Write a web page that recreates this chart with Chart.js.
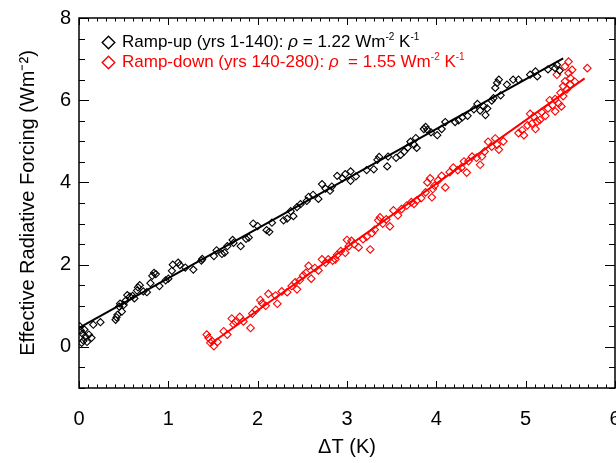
<!DOCTYPE html>
<html><head><meta charset="utf-8">
<script src="https://cdn.jsdelivr.net/npm/chart.js@4.4.1/dist/chart.umd.min.js"></script>
<style>
html,body{margin:0;padding:0;overflow:hidden;background:#fff;width:616px;height:463px;}
#wrap{position:relative;width:640px;height:463px;}
canvas{position:absolute;left:0;top:0;}
.leg{position:absolute;left:122px;font-family:"Liberation Sans",Arial,sans-serif;font-size:17px;line-height:20px;white-space:nowrap;}
.leg sup{font-size:10px;line-height:0;vertical-align:7px;}
.mk{position:absolute;left:101px;width:15px;height:15px;}
</style></head><body>
<div id="wrap"><canvas id="c" width="640" height="463"></canvas>
<svg class="mk" style="top:35px" viewBox="0 0 15 15"><polygon points="7.5,1.2 13.8,7.5 7.5,13.8 1.2,7.5" fill="none" stroke="#000" stroke-width="1.4"/></svg>
<div class="leg" style="top:32px;color:#000">Ramp-up (yrs 1-140): <i>ρ</i> = 1.22 Wm<sup>-2</sup> K<sup>-1</sup></div>
<svg class="mk" style="top:55px" viewBox="0 0 15 15"><polygon points="7.5,1.2 13.8,7.5 7.5,13.8 1.2,7.5" fill="none" stroke="#f00" stroke-width="1.4"/></svg>
<div class="leg" style="top:52px;color:#f00">Ramp-down (yrs 140-280): <i>ρ</i> &nbsp;= 1.55 Wm<sup>-2</sup> K<sup>-1</sup></div>
</div>
<script>
const rampUpX=[0.01,0.02,0.03,0.04,0.05,0.06,0.07,0.09,0.11,0.14,0.16,0.24,0.41,0.42,0.43,0.45,0.46,0.48,0.50,0.52,0.54,0.57,0.60,0.62,0.65,0.66,0.68,0.72,0.76,0.80,0.82,0.84,0.86,0.90,0.97,1.00,1.04,1.05,1.11,1.13,1.19,1.28,1.37,1.38,1.51,1.54,1.60,1.63,1.66,1.72,1.73,1.81,1.87,1.90,1.95,2.00,2.10,2.13,2.16,2.29,2.33,2.37,2.40,2.44,2.48,2.55,2.57,2.62,2.68,2.72,2.76,2.81,2.83,2.89,2.95,2.98,3.04,3.04,3.10,3.22,3.30,3.34,3.36,3.45,3.46,3.55,3.60,3.64,3.68,3.71,3.75,3.77,3.78,3.86,3.88,3.90,3.94,4.01,4.06,4.10,4.21,4.25,4.29,4.35,4.42,4.46,4.49,4.53,4.55,4.57,4.62,4.64,4.66,4.68,4.70,4.72,4.79,4.86,4.92,5.05,5.11,5.13,5.25,5.33,5.35,5.38];
const rampUpY=[0.50,0.40,0.10,0.32,0.15,0.42,0.25,0.12,0.30,0.22,0.54,0.60,0.66,0.72,0.78,0.98,1.05,0.86,1.02,1.12,1.26,1.22,1.24,1.18,1.37,1.45,1.50,1.35,1.33,1.55,1.73,1.80,1.77,1.48,1.62,1.66,1.85,2.00,2.05,1.99,1.93,1.88,2.10,2.14,2.21,2.35,2.26,2.29,2.45,2.60,2.53,2.45,2.63,2.66,3.00,2.94,2.84,2.80,3.02,3.08,3.12,3.30,3.18,3.40,3.47,3.55,3.65,3.70,3.60,3.96,3.85,3.80,3.90,4.16,4.10,4.20,4.27,4.04,4.15,4.30,4.32,4.55,4.62,4.39,4.63,4.60,4.67,4.75,4.85,4.99,4.92,5.08,4.84,5.30,5.35,5.28,5.22,5.15,5.30,5.47,5.47,5.51,5.58,5.62,5.78,5.91,5.75,5.85,5.64,5.80,5.99,6.05,6.30,6.42,6.50,6.12,6.38,6.50,6.50,6.62,6.70,6.58,6.75,6.78,6.86,6.72];
const rampDownX=[1.43,1.45,1.47,1.49,1.51,1.55,1.62,1.66,1.71,1.73,1.75,1.80,1.84,1.92,1.94,1.98,2.03,2.05,2.09,2.12,2.20,2.22,2.27,2.33,2.38,2.42,2.44,2.47,2.51,2.54,2.57,2.60,2.64,2.68,2.72,2.76,2.79,2.84,2.87,2.89,2.93,2.98,3.00,3.02,3.05,3.08,3.13,3.18,3.22,3.26,3.28,3.31,3.35,3.37,3.40,3.44,3.48,3.52,3.57,3.61,3.67,3.72,3.75,3.78,3.83,3.88,3.90,3.93,3.95,3.96,3.98,4.02,4.06,4.10,4.15,4.19,4.24,4.28,4.31,4.34,4.36,4.40,4.45,4.49,4.51,4.54,4.58,4.62,4.66,4.68,4.70,4.75,4.92,4.96,4.98,5.02,5.05,5.07,5.09,5.11,5.13,5.16,5.18,5.22,5.25,5.27,5.30,5.33,5.33,5.35,5.37,5.39,5.40,5.42,5.42,5.44,5.44,5.46,5.48,5.48,5.50,5.50,5.52,5.55,5.69];
const rampDownY=[0.30,0.22,0.10,0.14,0.02,0.12,0.38,0.30,0.69,0.55,0.61,0.73,0.62,0.46,0.81,0.90,1.14,1.06,1.00,1.29,1.25,1.05,1.35,1.33,1.48,1.57,1.40,1.62,1.74,1.80,1.97,1.66,1.92,1.86,2.13,2.05,2.13,2.10,2.13,2.24,2.33,2.29,2.60,2.45,2.58,2.50,2.42,2.62,2.68,2.37,2.77,2.85,3.08,3.15,3.00,3.10,2.93,3.32,3.20,3.35,3.44,3.52,3.48,3.56,3.62,3.76,4.00,4.10,3.64,3.84,3.92,4.05,4.16,3.88,4.25,4.36,4.30,4.36,4.51,4.24,4.52,4.63,4.60,4.43,4.63,4.75,4.99,4.87,5.07,4.92,4.80,5.00,5.20,5.27,5.15,5.39,5.67,5.43,5.60,5.30,5.48,5.52,5.71,5.62,5.80,6.00,5.88,6.03,5.73,6.62,5.92,6.18,5.85,6.34,6.10,6.46,6.82,6.26,6.66,6.94,6.54,6.38,6.74,6.45,6.78];
const fitUpX=[0,5.42], fitUpY=[0.46,7.02];
const fitDownX=[1.47,5.66], fitDownY=[0.07,6.53];
const xTickValues=[0,1,2,3,4,5,6];
const yTickValues=[0,2,4,6,8];
const xTitle='\u0394T (K)';
const yTitle='Effective Radiative Forcing (Wm\u207B\u00B2)';

const pts=(xs,ys)=>xs.map((x,i)=>({x:x,y:ys[i]}));
const FONT='"Liberation Sans", Arial, sans-serif';

const frame={id:'frame',afterDraw(chart){
  const {ctx,chartArea:a,scales:{x,y}}=chart;
  ctx.save();ctx.strokeStyle='#000';ctx.lineWidth=1;ctx.beginPath();
  for(let i=0;i<=60;i++){
    const px=Math.round(x.getPixelForValue(i/10))+0.5;
    const len=(i%10===0)?7:3.5;
    ctx.moveTo(px,a.bottom);ctx.lineTo(px,a.bottom-len);
    ctx.moveTo(px,a.top);ctx.lineTo(px,a.top+len);
  }
  for(let i=-2;i<=16;i++){
    const py=Math.round(y.getPixelForValue(i/2))+0.5;
    const len=(i%4===0)?10:6;
    ctx.moveTo(a.left,py);ctx.lineTo(a.left+len,py);
    ctx.moveTo(a.right,py);ctx.lineTo(a.right-len,py);
  }
  ctx.stroke();
  ctx.lineWidth=1.5;ctx.strokeRect(a.left,a.top,a.right-a.left,a.bottom-a.top);
  ctx.restore();
}};

new Chart(document.getElementById('c'),{
  type:'scatter',
  data:{datasets:[
    {data:pts(fitUpX,fitUpY),showLine:true,borderColor:'#000',borderWidth:2,pointRadius:0},
    {data:pts(fitDownX,fitDownY),showLine:true,borderColor:'#f00',borderWidth:2,pointRadius:0},
    {data:pts(rampUpX,rampUpY),pointStyle:'rectRot',pointRadius:3.6,borderWidth:1.1,borderColor:'#000',backgroundColor:'rgba(0,0,0,0)'},
    {data:pts(rampDownX,rampDownY),pointStyle:'rectRot',pointRadius:3.8,borderWidth:1.1,borderColor:'#f00',backgroundColor:'rgba(0,0,0,0)'}
  ]},
  options:{
    responsive:false,animation:false,
    layout:{padding:{top:10,right:25,bottom:0,left:0}},
    plugins:{legend:{display:false},tooltip:{enabled:false}},
    scales:{
      x:{type:'linear',min:0,max:6,
        afterBuildTicks:s=>{s.ticks=xTickValues.map(v=>({value:v}));},
        afterFit:s=>{s.height=75;},
        grid:{display:false,drawTicks:false},border:{display:false},
        ticks:{color:'#000',font:{family:FONT,size:20},padding:19,maxRotation:0,autoSkip:false},
        title:{display:true,text:xTitle,color:'#000',font:{family:FONT,size:20},padding:{top:0,bottom:4}}
      },
      y:{type:'linear',min:-1,max:8,
        afterBuildTicks:s=>{s.ticks=yTickValues.map(v=>({value:v}));},
        afterFit:s=>{s.width=79;},
        grid:{display:false,drawTicks:false},border:{display:false},
        ticks:{color:'#000',font:{family:FONT,size:20,lineHeight:1},padding:8,autoSkip:false},
        title:{display:true,text:yTitle,color:'#000',font:{family:FONT,size:20},padding:{top:16,bottom:0}}
      }
    }
  },
  plugins:[frame]
});
</script>
</body></html>
